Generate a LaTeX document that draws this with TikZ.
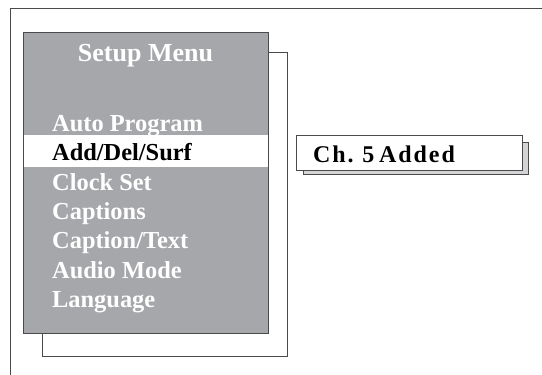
\documentclass[tikz,border=0pt]{standalone}
\usepackage{fontspec}
\setmainfont{Liberation Serif}
\definecolor{menugray}{HTML}{A6A7AB}
\definecolor{edgegray}{HTML}{4A4A4A}
\definecolor{shadowgray}{HTML}{D4D4D6}
\begin{document}
\begin{tikzpicture}[x=1pt,y=-1pt,
  frameline/.style={draw=edgegray, line width=0.9pt},
  boxline/.style={draw=edgegray, line width=0.9pt},
  item/.style={anchor=base west, inner sep=0pt, font=\fontsize{24.4}{24.4}\selectfont\bfseries, text=white},
  title/.style={anchor=base, inner sep=0pt, font=\fontsize{26}{26}\selectfont\bfseries, text=white},
  msg/.style={anchor=base west, inner sep=0pt, font=\fontsize{24}{24}\selectfont\bfseries\addfontfeature{LetterSpace=8}, text=black}]
\useasboundingbox (0,0) rectangle (542,375);
% outer frame
\draw[frameline] (542,8) -- (10,8) -- (10,375);
% menu shadow and menu
\draw[boxline, fill=white] (42,52) rectangle (287,356);
\draw[boxline, fill=menugray] (23,32) rectangle (268,333);
\fill[white] (23.5,135) rectangle (267.5,167);
\node[title] (ttl) at (145.5,61) {Setup Menu};
\node[item] (i1) at (52,131) {Auto Program};
\node[item, text=black] (i2) at (52,160.5) {Add/Del/Surf};
\node[item] (i3) at (52,190) {Clock Set};
\node[item] (i4) at (52,219) {Captions};
\node[item] (i5) at (52,248.5) {Caption/Text};
\node[item] (i6) at (52,278) {Audio Mode};
\node[item] (i7) at (52,307) {Language};
% message box
\draw[boxline, fill=shadowgray] (303,142) rectangle (528,174);
\draw[boxline, fill=white] (296,135) rectangle (522,170);
\node[msg] (m) at (313,162) {Ch.\hspace{-2pt} 5\hspace{-3pt} Added};
\end{tikzpicture}
\end{document}
